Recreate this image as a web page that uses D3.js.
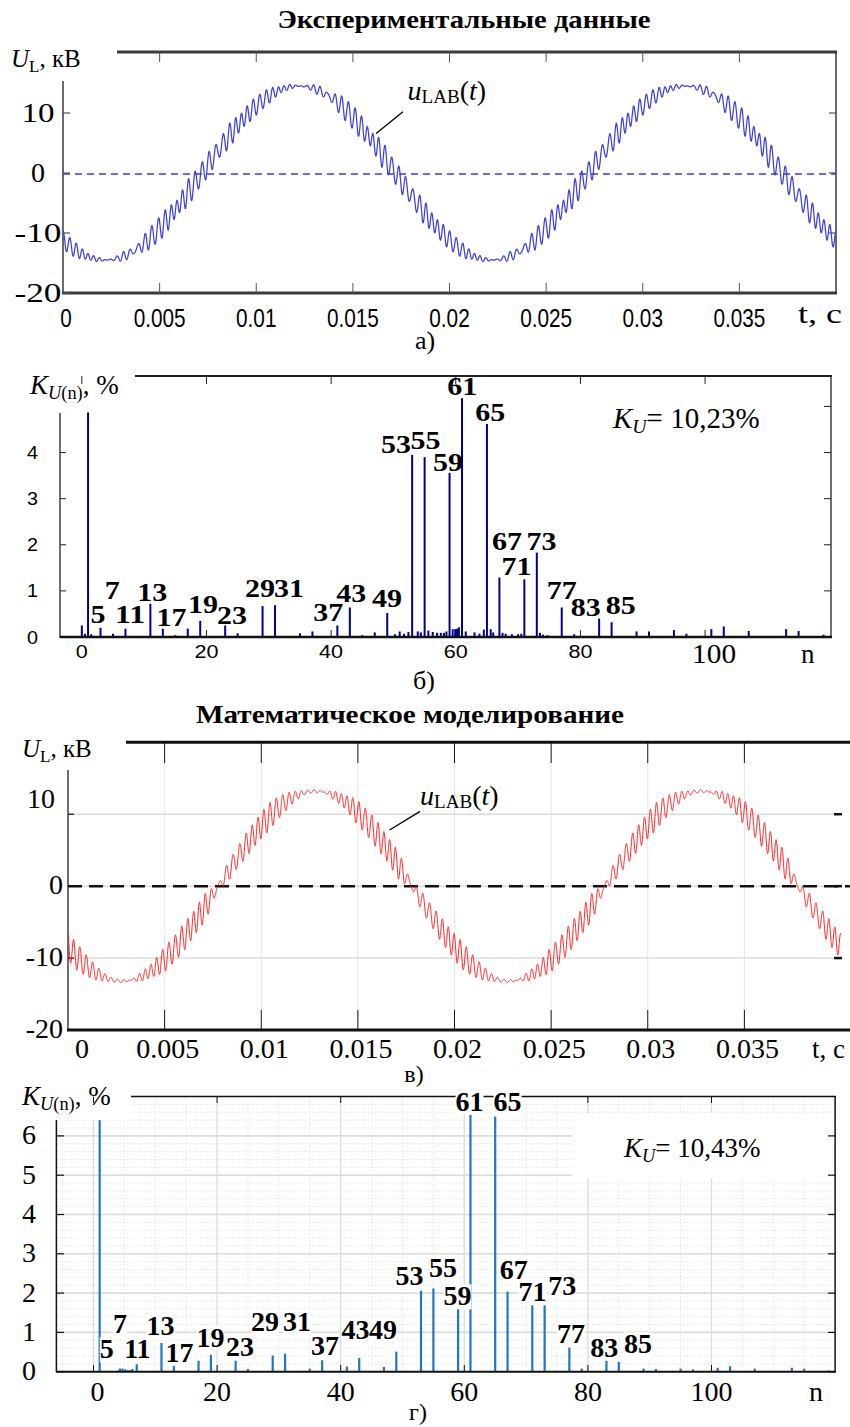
<!DOCTYPE html>
<html><head><meta charset="utf-8">
<script src="https://cdn.jsdelivr.net/npm/d3@7"></script>
<style>body{margin:0;background:#fff}svg{display:block}</style>
</head><body>
<svg id="c" width="850" height="1427"></svg>
<script>
// ---------------- DATA ----------------
const tTicks = [0, 0.005, 0.01, 0.015, 0.02, 0.025, 0.03, 0.035];
const tTickLabels = ["0", "0.005", "0.01", "0.015", "0.02", "0.025", "0.03", "0.035"];
const uTicks = [10, 0, -10, -20];
const uTickLabels = ["10", "0", "-10", "-20"];

// Experimental spectrum (panel б): harmonic order n and K_U(n), %
const expN = [0, 0.5, 1, 1.5, 3, 5, 7, 11, 13, 15, 17, 19, 23, 25, 29, 31, 35, 37, 41, 43, 45, 47, 49,
  50.25, 51, 51.7, 52.4, 53, 53.9, 54.4, 55, 55.6, 56.3, 57, 57.6, 58.1, 58.5, 59, 59.5, 59.9, 60.2, 60.5,
  61, 61.6, 63, 63.8, 64.5, 65, 65.6, 66, 67, 67.5, 68, 69, 70, 70.5, 71, 73, 73.5, 74, 74.7, 77, 79,
  83, 85, 89, 91, 95, 97, 101, 103, 107, 113, 115, 119];
const expK = [0.25, 0.07, 4.87, 0.06, 0.20, 0.07, 0.18, 0.72, 0.18, 0.04, 0.18, 0.35, 0.25, 0.08, 0.67, 0.69, 0.08, 0.12, 0.25, 0.64, 0.04, 0.10, 0.52,
  0.06, 0.12, 0.07, 0.11, 3.95, 0.12, 0.10, 3.90, 0.14, 0.11, 0.09, 0.09, 0.09, 0.12, 3.56, 0.17, 0.17, 0.18, 0.21,
  5.18, 0.12, 0.10, 0.07, 0.16, 4.62, 0.17, 0.10, 1.29, 0.09, 0.07, 0.06, 0.06, 0.07, 1.25, 1.83, 0.09, 0.05, 0.04, 0.64, 0.06,
  0.40, 0.32, 0.12, 0.12, 0.15, 0.07, 0.17, 0.23, 0.13, 0.17, 0.13, 0.05];

// Model spectrum (panel г)
const modN = [1, 4, 4.3, 4.7, 5.1, 5.5, 5.9, 6.3, 7, 11, 13, 17, 19, 23, 25, 29, 31, 35, 37, 41, 43, 47, 49,
  53, 55, 59, 61, 65, 67, 71, 73, 77, 79, 83, 85, 89, 91, 95, 97, 101, 103, 107, 113, 115, 119];
const modK = [6.40, 0.03, 0.08, 0.08, 0.06, 0.04, 0.04, 0.07, 0.19, 0.73, 0.19, 0.28, 0.43, 0.28, 0.07, 0.41, 0.46, 0.08, 0.29, 0.13, 0.35, 0.12, 0.51,
  2.06, 2.12, 1.72, 6.53, 6.49, 2.04, 1.72, 1.82, 0.62, 0.08, 0.33, 0.25, 0.08, 0.07, 0.08, 0.06, 0.10, 0.14, 0.08, 0.10, 0.08, 0.03];

// Harmonic labels: text, anchor n, anchor K (%)
const expLabText = ["5","7","11","13","17","19","23","29","31","37","43","49","53","55","59","61","65","67","71","73","77","83","85"];
const expLabN = [2.6, 4.9, 7.75, 11.3, 14.4, 19.45, 24.1, 28.6, 33.25, 39.55, 43.25, 48.95, 50.4, 55.15, 58.75, 61.05, 65.55, 68.2, 69.75, 73.75, 77.0, 80.85, 86.45];
const expLabK = [0.30, 0.82, 0.30, 0.79, 0.24, 0.53, 0.28, 0.87, 0.87, 0.35, 0.75, 0.66, 4.0, 4.07, 3.6, 5.25, 4.69, 1.89, 1.34, 1.89, 0.82, 0.46, 0.49];
const modLabText = ["5","7","11","13","17","19","23","29","31","37","43","49","53","55","59","61","65","67","71","73","77","83","85"];
const modLabN = [2.15, 4.3, 7.1, 10.85, 13.9, 18.95, 23.7, 27.75, 32.95, 37.45, 42.4, 46.85, 51.15, 56.55, 58.9, 60.85, 67.0, 68.0, 71.05, 75.85, 77.25, 82.65, 88.1];
const modLabK = [0.34, 0.98, 0.34, 0.93, 0.25, 0.64, 0.40, 1.04, 1.04, 0.42, 0.83, 0.83, 2.21, 2.40, 1.69, 6.64, 6.64, 2.35, 1.79, 1.95, 0.72, 0.38, 0.47];

// Time waveforms: fundamental (kV), rising zero crossing (s), carrier-band harmonics
// (amplitudes from the spectra above) with estimated phases (deg)
const f0 = 50;
const expU1 = 14.5, expT0 = 0.0072;
const modU1 = 13.2, modT0 = 0.0078;
const bandN = [53, 55, 59, 61, 65, 67, 71, 73];
const expPhase = [0, 20, 330, 330, 110, 100, 260, 250];
const modPhase = [0, 0, 330, 310, 120, 140, 210, 240];

const spectrumTicks = [0, 20, 40, 60, 80, 100];
const expKTicks = [0, 1, 2, 3, 4];
const modKTicks = [0, 1, 2, 3, 4, 5, 6];

// ---------------- HELPERS ----------------
const svg = d3.select("#c");
const SERIF = "'Liberation Serif', 'Times New Roman', serif";
const SANS = "'Liberation Sans', Arial, sans-serif";
function T(g, x, y, s, o = {}) {
  const t = g.append("text").attr("x", x).attr("y", y).text(s)
    .style("font-family", o.ff || SERIF).attr("font-size", o.fs || 26)
    .attr("font-weight", o.fw || "normal").attr("font-style", o.fst || "normal")
    .attr("text-anchor", o.ta || "start").attr("fill", o.fill || "#000");
  if (o.w) t.attr("textLength", o.w).attr("lengthAdjust", "spacingAndGlyphs");
  return t;
}
function line(g, x1, y1, x2, y2, c, w, dash) {
  const l = g.append("line").attr("x1", x1).attr("y1", y1).attr("x2", x2).attr("y2", y2)
    .attr("stroke", c).attr("stroke-width", w);
  if (dash) l.attr("stroke-dasharray", dash);
  return l;
}
function ULabel(g, x, y, fs) {
  const t = g.append("text").attr("x", x).attr("y", y).style("font-family", SERIF).attr("font-size", fs);
  t.append("tspan").attr("font-style", "italic").text("U");
  t.append("tspan").attr("font-size", fs * 0.68).attr("dy", 5).text("L");
  t.append("tspan").attr("dy", -5).text(", кВ");
}
function KLabel(g, x, y, fs, rest) {
  const t = g.append("text").attr("x", x).attr("y", y).style("font-family", SERIF).attr("font-size", fs);
  t.append("tspan").attr("font-style", "italic").text("K");
  t.append("tspan").attr("font-size", fs * 0.68).attr("dy", 5).attr("font-style", "italic").text("U");
  if (rest[0]) t.append("tspan").attr("font-size", fs * 0.68).text(rest[0]);
  t.append("tspan").attr("dy", -5).text(rest[1]);
  return t;
}
function uLab(g, x, y, fs) {
  const t = g.append("text").attr("x", x).attr("y", y).style("font-family", SERIF).attr("font-size", fs);
  t.append("tspan").attr("font-style", "italic").text("u");
  t.append("tspan").attr("font-size", fs * 0.68).attr("dy", 3).text("LAB");
  t.append("tspan").attr("dy", -3).text("(");
  t.append("tspan").attr("font-style", "italic").text("t");
  t.append("tspan").text(")");
}
function synth(U1, t0, phases, sN, sK, t) {
  const th = 2 * Math.PI * f0 * (t - t0);
  let u = U1 * Math.sin(th);
  bandN.forEach((k, i) => {
    const a = sK[sN.indexOf(k)] / 100 * U1;
    u += a * Math.cos(k * th + phases[i] * Math.PI / 180);
  });
  return u;
}
const tSamples = d3.range(0, 0.04 + 1e-9, 0.000005);

// ---------------- PANEL а ----------------
{
  const g = svg.append("g");
  const x = d3.scaleLinear().domain([0, 0.04]).range([63, 836]);
  const y = d3.scaleLinear().domain([-20, 20]).range([293, 53]);
  T(g, 464, 28, "Экспериментальные данные", { fs: 25, fw: "bold", ta: "middle", w: 373 });
  ULabel(g, 11, 67, 25);
  line(g, 117, 52, 837, 52, "#3a3a3a", 3);
  line(g, 63, 81, 63, 294, "#3a3a3a", 1.5);
  line(g, 62, 293, 837, 293, "#3a3a3a", 3);
  line(g, 836, 52, 836, 294, "#3a3a3a", 1.5);
  tTicks.slice(1).forEach(v => {
    line(g, x(v), 52, x(v), 62, "#555", 1);
    line(g, x(v), 293, x(v), 283, "#555", 1);
  });
  uTicks.forEach(v => {
    line(g, 63, y(v), 70, y(v), "#555", 1.2);
    if (v > -20) line(g, 836, y(v), 829, y(v), "#555", 1.2);
  });
  uTicks.forEach((v, i) => T(g, 38, y(v) + 9, uTickLabels[i], { fs: 28, ta: "middle", w: uTickLabels[i].length === 1 ? 14 : (uTickLabels[i].length === 2 ? 33 : 47) }));
  tTicks.forEach((v, i) => {
    const s = tTickLabels[i];
    const w = s.replace(".", "").length * 11.5 + (s.includes(".") ? 6 : 0);
    T(g, x(v) + (i === 0 ? 3 : 0), 327, s, { ff: SANS, fs: 26, ta: "middle", w: w });
  });
  T(g, 798, 323, "t, c", { fs: 28, w: 44 });
  T(g, 425, 349, "а)", { fs: 26, ta: "middle" });
  line(g, x(0), y(0) + 1, x(0.04), y(0) + 1, "#3b3bd0", 1.5, "7,5");
  const path = d3.line().x(t => x(t)).y(t => y(synth(expU1, expT0, expPhase, expN, expK, t)));
  g.append("path").attr("d", path(tSamples)).attr("fill", "none").attr("stroke", "#4040dc").attr("stroke-width", 1.25);
  uLab(g, x(0.01783), y(12.17), 28);
  line(g, x(0.01759), y(10.2), x(0.0162), y(6.6), "#000", 1.3);
}

// ---------------- PANEL б ----------------
{
  const g = svg.append("g");
  const x = d3.scaleLinear().domain([-3.5, 120.2]).range([60, 831]);
  const y = d3.scaleLinear().domain([0, 5.66]).range([637, 376]);
  line(g, 135, 376, 832, 376, "#222", 2);
  line(g, 60, 413, 60, 638, "#222", 1.3);
  line(g, 831, 376, 831, 638, "#222", 1.3);
  [1, 2, 3, 4, 5].forEach(v => {
    line(g, 831, y(v), 824, y(v), "#222", 1);
    if (v < 5) line(g, 60, y(v), 66, y(v), "#222", 1);
  });
  spectrumTicks.forEach(v => {
    line(g, x(v), 376, x(v), 384, "#222", 1);
    line(g, x(v), 637, x(v), 630, "#222", 1);
  });
  g.selectAll("line.bar").data(expN).enter().append("line").attr("class", "bar")
    .attr("x1", d => x(d)).attr("x2", d => x(d)).attr("y1", y(0)).attr("y2", (d, i) => y(expK[i]))
    .attr("stroke", "#00008f").attr("stroke-width", 2);
  line(g, 60, 637, 832, 637, "#111", 2.5);
  expKTicks.forEach(v => T(g, 38, y(v) + 6.5, String(v), { ff: SANS, fs: 18, ta: "end", w: 11 }));
  spectrumTicks.slice(0, 5).forEach(v => T(g, x(v), 658, String(v), { ff: SANS, fs: 18, ta: "middle", w: String(v).length * 12 }));
  T(g, x(100) + 9, 663, "100", { fs: 27, ta: "middle", w: 44 });
  T(g, 801, 663, "n", { fs: 27 });
  T(g, 424, 689, "б)", { fs: 26, ta: "middle" });
  KLabel(g, 30, 394, 27, ["(n)", ", %"]);
  KLabel(g, 613, 428, 29, ["", "= 10,23%"]);
  expLabText.forEach((s, i) => T(g, x(expLabN[i]), y(expLabK[i]), s, { fs: 25.5, fw: "bold", ta: "middle", w: s.length * 15 }));
}

// ---------------- PANEL в ----------------
{
  const g = svg.append("g");
  const x = d3.scaleLinear().domain([0, 0.04]).range([68, 841]);
  const y = d3.scaleLinear().domain([-20, 20]).range([1030, 742.3]);
  T(g, 410, 723, "Математическое моделирование", { fs: 25, fw: "bold", ta: "middle", w: 428 });
  ULabel(g, 22, 757, 25);
  tTicks.slice(1).forEach(v => line(g, x(v), 763, x(v), 1010, "#e6e6e6", 1));
  [10, 0, -10].forEach(v => line(g, 68, y(v), 841, y(v), "#dcdcdc", 1.5));
  line(g, 126, 742.3, 850, 742.3, "#111", 3);
  line(g, 68, 770, 68, 1031, "#222", 1.3);
  line(g, 67, 1030, 850, 1030, "#111", 3);
  tTicks.slice(1).forEach(v => {
    line(g, x(v), 742, x(v), 763, "#111", 1);
    line(g, x(v), 1030, x(v), 1010, "#111", 1);
  });
  [10, 0, -10].forEach(v => {
    line(g, 834, y(v), 842, y(v), "#111", 2.5);
    line(g, 68, y(v), 74, y(v), "#111", 1.2);
  });
  uTicks.forEach((v, i) => T(g, v === 10 ? 55 : 63, y(v) + (v === 10 ? -6 : 8), uTickLabels[i], { fs: 28, ta: "end" }));
  tTicks.forEach((v, i) => T(g, x(v) + (i === 0 ? 14 : 3), 1058, tTickLabels[i], { fs: 28, ta: "middle" }));
  T(g, 812, 1058, "t, c", { fs: 27 });
  T(g, 414, 1082, "в)", { fs: 24, ta: "middle" });
  line(g, 68, y(0), 850, y(0), "#111", 2.5, "14,7");
  const path = d3.line().x(t => x(t)).y(t => y(synth(modU1, modT0, modPhase, modN, modK, t)));
  g.append("path").attr("d", path(tSamples)).attr("fill", "none").attr("stroke", "#ff1a1a").attr("stroke-width", 1);
  uLab(g, x(0.01822), y(11.3), 28);
  line(g, x(0.01822), y(10.4), x(0.01664), y(7.8), "#000", 1.3);
}

// ---------------- PANEL г ----------------
{
  const g = svg.append("g");
  const x = d3.scaleLinear().domain([-6, 120]).range([56.4, 835.1]);
  const y = d3.scaleLinear().domain([0, 7]).range([1371.7, 1096.6]);
  d3.range(0.2, 7, 0.2).forEach(v => line(g, 56.4, y(v), 835.1, y(v), "#e2e2e2", 1, "1.5,2"));
  d3.range(-5, 120, 5).filter(v => v % 20 !== 0).forEach(v => line(g, x(v), 1096.6, x(v), 1371.7, "#e2e2e2", 1, "1.5,2"));
  modKTicks.slice(1).forEach(v => line(g, 56.4, y(v), 835.1, y(v), "#dcdcdc", 1.6));
  spectrumTicks.forEach(v => line(g, x(v), 1096.6, x(v), 1371.7, "#dcdcdc", 1.3));
  g.append("rect").attr("x", 572).attr("y", 1113).attr("width", 263).attr("height", 65).attr("fill", "#fff");
  KLabel(g, 624, 1157, 27, ["", "= 10,43%"]);
  g.append("rect").attr("x", 0).attr("y", 1080).attr("width", 131).attr("height", 40).attr("fill", "#fff");
  line(g, 131, 1096.6, 836, 1096.6, "#111", 1.5);
  line(g, 56.4, 1120, 56.4, 1372, "#111", 1.5);
  line(g, 835.1, 1096.6, 835.1, 1372, "#111", 1.5);
  modKTicks.forEach(v => {
    line(g, 56.4, y(v), 64, y(v), "#111", 1.2);
    line(g, 835.1, y(v), 828, y(v), "#111", 1.2);
  });
  spectrumTicks.forEach(v => {
    line(g, x(v), 1096.6, x(v), 1103, "#111", 1);
    line(g, x(v), 1371.7, x(v), 1365, "#111", 1);
  });
  g.selectAll("line.bar").data(modN).enter().append("line").attr("class", "bar")
    .attr("x1", d => x(d)).attr("x2", d => x(d)).attr("y1", y(0)).attr("y2", (d, i) => y(modK[i]))
    .attr("stroke", "#1f77c4").attr("stroke-width", 2.2);
  line(g, 56, 1371.7, 836, 1371.7, "#111", 2);
  modKTicks.forEach(v => T(g, 36, y(v) + 8.5, String(v), { fs: 28, ta: "end" }));
  spectrumTicks.forEach(v => T(g, x(v) + (v === 0 ? 4 : 0), 1401, String(v), { fs: 28, ta: "middle" }));
  T(g, 809, 1401, "n", { fs: 28 });
  T(g, 418, 1420, "г)", { fs: 24, ta: "middle" });
  KLabel(g, 22, 1105, 27, ["(n)", ", %"]);
  modLabText.forEach((s, i) => {
    const lg = g.append("g");
    const t = T(lg, x(modLabN[i]), y(modLabK[i]), s, { fs: 28, fw: "bold", ta: "middle" });
    const b = t.node().getBBox();
    lg.insert("rect", "text").attr("x", b.x).attr("y", b.y + 4).attr("width", b.width).attr("height", b.height - 6).attr("fill", "#fff");
  });
}
</script>
</body></html>
